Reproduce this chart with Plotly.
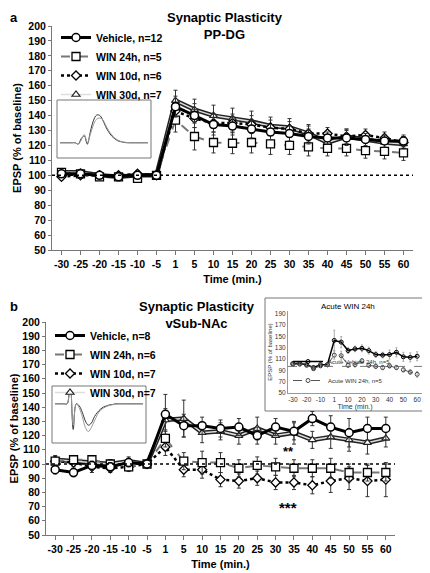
import plotly.graph_objects as go

times = ["-30", "-25", "-20", "-15", "-10", "-5", "1", "5", "10", "15", "20",
         "25", "30", "35", "40", "45", "50", "55", "60"]

# panel a: PP-DG
a_vehicle = [101, 101, 100, 99, 100, 100, 146, 140, 134, 133, 131, 129, 128, 126, 125, 125, 124, 123, 123]
a_vehicle_err = [2, 2, 2, 2, 2, 1, 7, 8, 7, 6, 6, 5, 5, 5, 4, 5, 4, 4, 4]
a_win24 = [102, 101, 99, 99, 98, 100, 137, 126, 122, 121.5, 122, 121, 120, 119, 118, 118, 116.5, 116, 115]
a_win24_err = [2, 2, 2, 2, 2, 1, 8, 9, 7, 7, 7, 7, 6, 6, 5, 5, 5, 5, 5]
a_win10 = [99, 100, 100, 100, 101, 100, 143, 138, 135, 135, 134, 132, 131, 128, 128, 126, 127, 125, 122]
a_win10_err = [2, 2, 2, 2, 2, 1, 6, 6, 6, 6, 6, 5, 5, 5, 4, 5, 4, 4, 4]
a_win30 = [102, 102, 100, 99, 100, 100, 150, 144, 140, 138, 136, 133, 132, 128, 122, 126, 124, 122, 121]
a_win30_err = [2, 2, 2, 2, 2, 1, 7, 7, 7, 7, 7, 6, 6, 6, 5, 5, 5, 5, 5]

# panel b: vSub-NAc
b_vehicle = [96, 94, 99, 98, 101, 100, 135, 127, 127, 125, 126, 120, 126, 123, 132, 126, 122, 125, 125]
b_vehicle_err = [3, 3, 3, 3, 3, 1, 14, 8, 6, 6, 6, 6, 6, 6, 5, 8, 10, 8, 8]
b_win24 = [102, 103, 103, 100, 98, 100, 118, 102, 101, 101, 97, 99, 98, 97, 97, 97, 94, 94, 94]
b_win24_err = [3, 3, 3, 3, 3, 1, 6, 6, 8, 7, 6, 6, 6, 6, 6, 7, 6, 6, 6]
b_win10 = [102, 101, 98, 97, 98, 100, 112, 96, 96, 89, 88, 90, 87, 87, 85, 88, 90, 88, 89]
b_win10_err = [3, 3, 4, 3, 3, 1, 6, 5, 6, 5, 5, 5, 5, 5, 6, 8, 8, 11, 12]
b_win30 = [103, 102, 101, 100, 102, 100, 131, 132, 122, 123, 120, 125, 120, 122, 117, 119, 117, 115, 118]
b_win30_err = [3, 3, 3, 3, 3, 1, 8, 13, 7, 6, 6, 8, 6, 8, 6, 8, 8, 8, 6]

# inset: acute WIN 24h
c_vehicle = [102, 102, 100, 95, 100, 100, 143, 140, 125, 128, 129, 125, 118, 117, 118, 122, 114, 113, 115]
c_vehicle_err = [3, 3, 3, 3, 3, 2, 18, 10, 5, 5, 6, 6, 5, 5, 8, 8, 8, 8, 8]
c_win = [101, 101, 99, 93, 98, 100, 117, 116, 99, 100, 107, 99, 97, 95, 98, 95, 91, 87, 83]
c_win_err = [3, 3, 3, 3, 3, 2, 7, 8, 4, 4, 4, 4, 4, 4, 4, 4, 4, 4, 5]

# example EPSP waveforms (sample values)
wave_t = list(range(30))
wave_a1 = [0, 0, 0, 0, 0, 0, -1, 3, 5, -1, 8, 16, 20, 20, 17, 12, 8, 5, 3, 1.5, 0.8, 0.3, 0, 0, 0, 0, 0, 0, 0, 0]
wave_a2 = [0, 0, 0, 0, 0, 0, -1, 2, 6, 0, 6, 13, 17, 18, 17, 13, 9, 6, 3.5, 2, 1, 0.5, 0.2, 0, 0, 0, 0, 0, 0, 0]
wave_b1 = [0, 0, 0, 0, 0, 12, -12, 0, -1, -4, -8, -10, -9, -6, -4, -2.5, -1.5, -1, -0.5, -0.3, 0, 0, 0, 0, 0, 0, 0, 0, 0, 0]
wave_b2 = [0, 0, 0, 0, 0, 10, -10, 0, -2, -6, -11, -13, -11, -8, -5, -3, -2, -1.2, -0.7, -0.4, -0.2, 0, 0, 0, 0, 0, 0, 0, 0, 0]

FONT = "Liberation Sans"
# the page shifts the figure a little, so size it to the visible area
OFF = 5
W, H = 430 - OFF, 573 - OFF


def px(x):
    return (x - OFF) / W


def py(y):
    return 1 - (y - OFF) / H


fig = go.Figure()

# waveform insets first so they sit under the data
for xa, ya, w1, w2 in [("x4", "y4", wave_a1, wave_a2), ("x5", "y5", wave_b1, wave_b2)]:
    fig.add_trace(go.Scatter(x=wave_t, y=w1, xaxis=xa, yaxis=ya, mode="lines", showlegend=False,
                             line=dict(color="#333", width=1), line_shape="spline", hoverinfo="skip"))
    fig.add_trace(go.Scatter(x=wave_t, y=w2, xaxis=xa, yaxis=ya, mode="lines", showlegend=False,
                             line=dict(color="#999", width=1), line_shape="spline", hoverinfo="skip"))


def err(vals):
    return dict(type="data", array=vals, color="#333", thickness=1, width=2)


def add_panel(xa, ya, leg, veh, veh_e, w24, w24_e, w10, w10_e, w30, w30_e, names):
    # WIN 30d: outlined double line
    fig.add_trace(go.Scatter(x=times, y=w30, xaxis=xa, yaxis=ya, mode="lines", showlegend=False,
                             line=dict(color="#222", width=4.5), error_y=err(w30_e), hoverinfo="skip"))
    fig.add_trace(go.Scatter(x=times, y=w30, xaxis=xa, yaxis=ya, mode="lines+markers", name=names[3],
                             legend=leg, line=dict(color="#ddd", width=1.5),
                             marker=dict(symbol="triangle-up", size=7, color="white", line=dict(color="#222", width=1.2))))
    fig.add_trace(go.Scatter(x=times, y=w10, xaxis=xa, yaxis=ya, mode="lines+markers", name=names[2],
                             legend=leg, line=dict(color="black", width=2.5, dash="dot"), error_y=err(w10_e),
                             marker=dict(symbol="diamond", size=7, color="white", line=dict(color="black", width=1.3))))
    fig.add_trace(go.Scatter(x=times, y=w24, xaxis=xa, yaxis=ya, mode="lines+markers", name=names[1],
                             legend=leg, line=dict(color="#777", width=2, dash="dash"), error_y=err(w24_e),
                             marker=dict(symbol="square", size=8, color="white", line=dict(color="black", width=1.3))))
    fig.add_trace(go.Scatter(x=times, y=veh, xaxis=xa, yaxis=ya, mode="lines+markers", name=names[0],
                             legend=leg, line=dict(color="black", width=3), error_y=err(veh_e),
                             marker=dict(symbol="circle", size=8, color="white", line=dict(color="black", width=1.5))))


add_panel("x", "y", "legend", a_vehicle, a_vehicle_err, a_win24, a_win24_err, a_win10, a_win10_err,
          a_win30, a_win30_err, ["Vehicle, n=12", "WIN 24h, n=5", "WIN 10d, n=6", "WIN 30d, n=7"])
add_panel("x2", "y2", "legend2", b_vehicle, b_vehicle_err, b_win24, b_win24_err, b_win10, b_win10_err,
          b_win30, b_win30_err, ["Vehicle, n=8", "WIN 24h, n=6", "WIN 10d, n=7", "WIN 30d, n=7"])

# inset traces
fig.add_trace(go.Scatter(x=times, y=c_vehicle, xaxis="x3", yaxis="y3", mode="lines+markers",
                         name="Acute Vehicle 24h, n=5", legend="legend3", line=dict(color="black", width=1.5),
                         error_y=dict(type="data", array=c_vehicle_err, color="#999", thickness=0.8, width=1),
                         marker=dict(symbol="circle-open", size=4, color="black")))
fig.add_trace(go.Scatter(x=times, y=c_win, xaxis="x3", yaxis="y3", mode="lines+markers",
                         name="Acute WIN 24h, n=5", legend="legend3", line=dict(color="#555", width=1, dash="dash"),
                         error_y=dict(type="data", array=c_win_err, color="#999", thickness=0.8, width=1),
                         marker=dict(symbol="circle-open", size=4, color="#444")))

tickfont = dict(family=FONT, size=10.5, color="black", weight="bold")
main_x = dict(type="category", range=[-0.5, 18.5], tickangle=0, showline=True, linecolor="#777",
              ticks="outside", ticklen=4, tickcolor="#777", tickfont=tickfont, showgrid=False, automargin=False,
              title=dict(text="<b>Time (min.)</b>", font=dict(family=FONT, size=11), standoff=6))
main_y = dict(range=[50, 200], dtick=10, showline=True, linecolor="#777", ticks="outside", ticklen=3,
              tickcolor="#777", tickfont=tickfont, showgrid=False, zeroline=False, automargin=False,
              title=dict(text="<b>EPSP (% of baseline)</b>", font=dict(family=FONT, size=11), standoff=4))
bare = dict(showticklabels=False, showgrid=False, zeroline=False, showline=False, ticks="", automargin=False)

fig.update_layout(
    width=W, height=H, margin=dict(l=0, r=0, t=0, b=0, autoexpand=False),
    plot_bgcolor="rgba(0,0,0,0)", paper_bgcolor="white",
    font=dict(family=FONT, color="black"),
    xaxis=dict(main_x, domain=[px(49), px(410)], anchor="y"),
    yaxis=dict(main_y, domain=[py(247), py(23)], anchor="x"),
    xaxis2=dict(main_x, domain=[px(43), px(392)], anchor="y2"),
    yaxis2=dict(main_y, domain=[py(532), py(319)], anchor="x2"),
    xaxis3=dict(type="category", range=[-0.7, 18.7], tickangle=0, domain=[px(285), px(419)], anchor="y3",
                showline=True, linecolor="#999", automargin=False,
                tickvals=times[::2], ticktext=["-30", "-20", "-10", "1", "10", "20", "30", "40", "50", "60"],
                tickfont=dict(size=6.5, color="#333"), showgrid=False,
                title=dict(text="Time (min.)", font=dict(size=7, color="#333"), standoff=1)),
    yaxis3=dict(domain=[py(390), py(308)], anchor="x3", range=[50, 195], tickvals=list(range(50, 191, 20)),
                showline=True, linecolor="#999", tickfont=dict(size=6.5, color="#333"), showgrid=False,
                zeroline=False, automargin=False,
                title=dict(text="EPSP (% of baseline)", font=dict(size=6, color="#333"), standoff=1)),
    xaxis4=dict(bare, domain=[px(57), px(145)], anchor="y4"),
    yaxis4=dict(bare, domain=[py(148), py(104)], anchor="x4", range=[-6, 26]),
    xaxis5=dict(bare, domain=[px(52), px(140)], anchor="y5"),
    yaxis5=dict(bare, domain=[py(435), py(388)], anchor="x5", range=[-16, 6]),
    legend=dict(x=px(53), y=py(20), xanchor="left", yanchor="top", bgcolor="rgba(0,0,0,0)",
                font=dict(family=FONT, size=10.5, weight="bold"), tracegroupgap=0, itemwidth=30,
                traceorder="reversed"),
    legend2=dict(x=px(47), y=py(318), xanchor="left", yanchor="top", bgcolor="rgba(0,0,0,0)",
                 font=dict(family=FONT, size=10.5, weight="bold"), tracegroupgap=0, itemwidth=30,
                 traceorder="reversed"),
    legend3=dict(x=px(285), y=py(392), xanchor="left", yanchor="bottom", bgcolor="rgba(0,0,0,0)",
                 font=dict(size=6, color="#333"), tracegroupgap=0, itemwidth=30),
)

shapes = [
    dict(type="line", xref="x domain", yref="y", x0=0, x1=1, y0=100, y1=100, line=dict(dash="dot", width=1.5, color="black")),
    dict(type="line", xref="x2 domain", yref="y2", x0=0, x1=1, y0=100, y1=100, line=dict(dash="dot", width=1.5, color="black")),
    dict(type="line", xref="x3 domain", yref="y3", x0=0, x1=1, y0=97, y1=97, line=dict(dash="dash", width=0.8, color="#555")),
    dict(type="rect", xref="paper", yref="paper", x0=px(262), x1=px(427), y0=py(408), y1=py(295),
         line=dict(color="#777", width=1), fillcolor="white", layer="below"),
    dict(type="rect", xref="paper", yref="paper", x0=px(54), x1=px(148), y0=py(155), y1=py(97),
         line=dict(color="#777", width=1), layer="below"),
    dict(type="rect", xref="paper", yref="paper", x0=px(49), x1=px(143), y0=py(440), y1=py(383),
         line=dict(color="#777", width=1), layer="below"),
]
fig.update_layout(shapes=shapes)

anns = [
    dict(text="<b>a</b>", x=px(5), y=py(5), font=dict(size=13)),
    dict(text="<b>Synaptic Plasticity<br>PP-DG</b>", x=px(222), y=py(5), font=dict(size=13), xanchor="center"),
    dict(text="<b>b</b>", x=px(5), y=py(294), font=dict(size=13)),
    dict(text="<b>Synaptic Plasticity<br>vSub-NAc</b>", x=px(194), y=py(294), font=dict(size=13), xanchor="center"),
    dict(text="Acute WIN 24h", x=px(345), y=py(297), font=dict(size=8), xanchor="center"),
    dict(text="<b>**</b>", x=px(285), y=py(448), yanchor="middle", font=dict(size=13), xanchor="center"),
    dict(text="<b>***</b>", x=px(285), y=py(504), yanchor="middle", font=dict(size=15), xanchor="center"),
]
for a in anns:
    a.setdefault("xanchor", "left")
    a.setdefault("yanchor", "top")
    fig.add_annotation(xref="paper", yref="paper", showarrow=False, **a)

fig.write_html("out.html")
